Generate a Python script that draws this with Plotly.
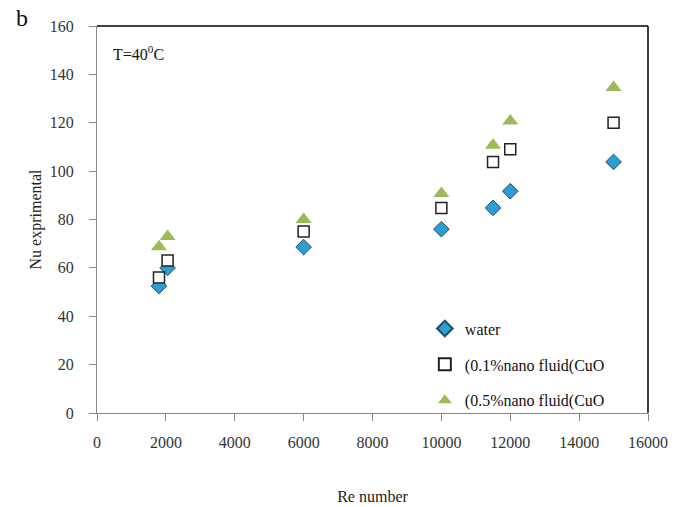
import plotly.graph_objects as go

re_water = [1800, 2050, 6000, 10000, 11500, 12000, 15000]
nu_water = [52.5, 60, 68.6, 76, 84.8, 91.7, 103.8]
re_01 = [1800, 2050, 6000, 10000, 11500, 12000, 15000]
nu_01 = [56, 63, 75, 84.8, 103.8, 109, 120]
re_05 = [1800, 2050, 6000, 10000, 11500, 12000, 15000]
nu_05 = [68.7, 73, 80, 90.8, 110.7, 120.7, 134.6]

x_ticks = [0, 2000, 4000, 6000, 8000, 10000, 12000, 14000, 16000]
y_ticks = [0, 20, 40, 60, 80, 100, 120, 140, 160]

font = "Liberation Serif, Times New Roman, serif"

fig = go.Figure()
fig.add_trace(go.Scatter(x=re_water, y=nu_water, mode="markers", name="water",
                         legendgroup="a",
                         marker=dict(symbol="diamond", size=12, color="#2C9ED4",
                                     line=dict(color="#1F4E6B", width=1))))
fig.add_trace(go.Scatter(x=re_01, y=nu_01, mode="markers", name="(0.1%nano fluid(CuO",
                         legendgroup="b",
                         marker=dict(symbol="square", size=11, color="white",
                                     line=dict(color="#222222", width=1.5))))
fig.add_trace(go.Scatter(x=re_05, y=nu_05, mode="markers", name="(0.5%nano fluid(CuO",
                         legendgroup="c",
                         marker=dict(symbol="triangle-up", size=14, color="#9BBB59",
                                     line=dict(width=0))))

fig.update_layout(
    width=685, height=507,
    margin=dict(l=97, r=37, t=26, b=94, autoexpand=False),
    paper_bgcolor="white", plot_bgcolor="white",
    font=dict(family=font, size=16, color="#222222"),
    showlegend=True,
    legend=dict(x=0.595, y=0.125, xanchor="left", yanchor="middle",
                bgcolor="rgba(0,0,0,0)", font=dict(family=font, size=16, color="#111111"),
                itemsizing="constant", tracegroupgap=12, itemwidth=30),
    xaxis=dict(range=[0, 16000], tickvals=x_ticks, ticktext=[str(v) for v in x_ticks],
               showgrid=False, zeroline=False, showline=True, linecolor="#888888",
               linewidth=1, ticks="outside", ticklen=7, tickcolor="#888888",
               ticklabelstandoff=8, tickfont=dict(family=font, size=16, color="#333333"),
               mirror=False, fixedrange=True, automargin=False,
               title=dict(text="Re number", font=dict(family=font, size=16), standoff=40)),
    yaxis=dict(range=[0, 160], tickvals=y_ticks, ticktext=[str(v) for v in y_ticks],
               showgrid=False, zeroline=False, showline=True, linecolor="#888888",
               linewidth=1, ticks="outside", ticklen=7, tickcolor="#888888",
               ticklabelstandoff=12, tickfont=dict(family=font, size=16, color="#333333"),
               fixedrange=True, automargin=False,
               title=dict(text="Nu exprimental", font=dict(family=font, size=16), standoff=4)),
    shapes=[
        dict(type="line", xref="paper", yref="paper", x0=0, x1=1, y0=1, y1=1,
             line=dict(color="black", width=1.5)),
        dict(type="line", xref="paper", yref="paper", x0=1, x1=1, y0=0, y1=1,
             line=dict(color="black", width=1.5)),
    ],
    annotations=[
        dict(text="T=40<sup>0</sup>C", xref="paper", yref="paper", x=0.025, y=0.93,
             xanchor="left", yanchor="middle", showarrow=False,
             font=dict(family=font, size=16, color="#111111")),
        dict(text="b", xref="paper", yref="paper", x=-0.136, y=1.02,
             xanchor="center", yanchor="middle", showarrow=False,
             font=dict(family=font, size=24, color="#111111")),
    ],
)

fig.write_html("out.html")
